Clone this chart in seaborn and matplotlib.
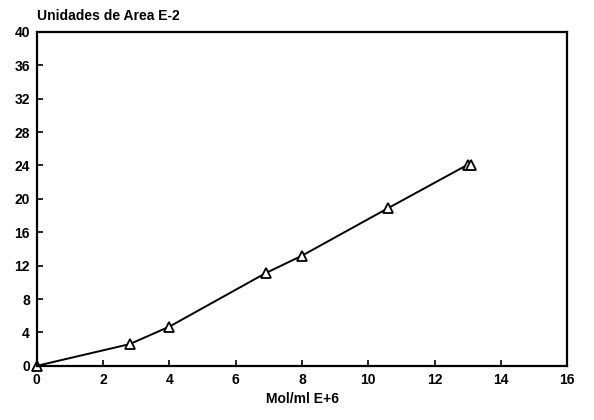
import matplotlib
matplotlib.use("Agg")
import matplotlib.pyplot as plt
import seaborn as sns
import pandas as pd

conc = [0.0, 2.8, 4.0, 6.9, 8.0, 10.6, 13.0, 13.1]
area = [0.0, 2.6, 4.7, 11.1, 13.2, 18.9, 24.1, 24.1]
xticks = [0, 2, 4, 6, 8, 10, 12, 14, 16]
yticks = [0, 4, 8, 12, 16, 20, 24, 28, 32, 36, 40]

sns.set_style("ticks", {"text.color": "black", "axes.labelcolor": "black",
                        "xtick.color": "black", "ytick.color": "black",
                        "axes.edgecolor": "black"})
plt.rcParams['font.family'] = ['Liberation Sans', 'DejaVu Sans']
plt.rcParams['font.weight'] = 'bold'

df = pd.DataFrame({"x": conc, "y": area})
fig = plt.figure(figsize=(5.94, 4.2), dpi=100)
ax = fig.add_axes([0.062, 0.129, 0.893, 0.795])
sns.lineplot(data=df, x="x", y="y", ax=ax, color="black", linewidth=1.4,
             marker="^", markersize=7, markerfacecolor="white",
             markeredgecolor="black", markeredgewidth=1.3, sort=False,
             clip_on=False)
ax.set_xlim(0, 16)
ax.set_ylim(0, 40)
ax.set_xticks(xticks)
ax.set_yticks(yticks)
ax.tick_params(direction="in", length=4, width=1.2, labelsize=10, pad=5,
               colors="black")
for lbl in ax.get_xticklabels() + ax.get_yticklabels():
    lbl.set_fontweight("bold")
for s in ax.spines.values():
    s.set_visible(True)
    s.set_linewidth(1.6)
    s.set_color("black")
ax.set_xlabel("Mol/ml E+6", fontsize=10, fontweight="bold", color="black")
ax.set_ylabel("")
fig.text(0.062, 0.945, "Unidades de Area E-2", fontsize=10, fontweight="bold",
         ha="left", va="bottom", color="black")
fig.savefig("out.png", dpi=100)
